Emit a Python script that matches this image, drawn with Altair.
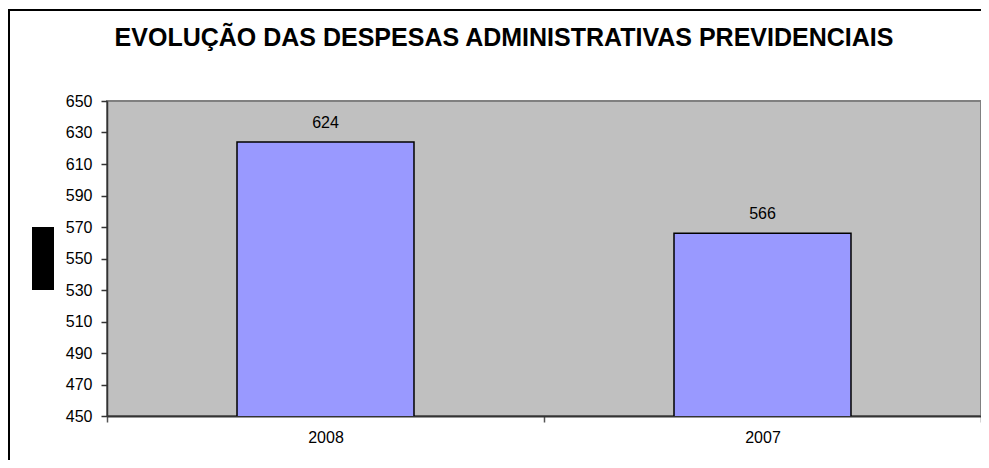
import altair as alt
import pandas as pd

title_text = "EVOLUÇÃO DAS DESPESAS ADMINISTRATIVAS PREVIDENCIAIS"
years = ["2008", "2007"]
values = [624, 566]
y_ticks = [450, 470, 490, 510, 530, 550, 570, 590, 610, 630, 650]

FONT = "Liberation Sans"

df = pd.DataFrame({"year": years, "value": values})

x_enc = alt.X(
    "year:N",
    sort=years,
    scale=alt.Scale(paddingInner=0, paddingOuter=0),
    axis=alt.Axis(
        title=None, labelAngle=0, labelFont=FONT, labelFontSize=16, labelColor="black",
        domainColor="#333333", domainWidth=2, tickColor="#555555", tickWidth=1.5,
        tickSize=6, tickBand="extent", labelPadding=7, grid=False,
    ),
)
y_enc = alt.Y(
    "value:Q",
    scale=alt.Scale(domain=[450, 650], nice=False, zero=False),
    axis=alt.Axis(
        title=None, values=y_ticks, labelFont=FONT, labelFontSize=16, labelColor="black",
        labelOverlap=False, labelFlush=False,
        domainColor="#333333", domainWidth=1.5, tickColor="#333333", tickWidth=1.5,
        tickSize=6, labelPadding=9, grid=False,
    ),
)

bars = alt.Chart(df).mark_bar(
    color="#9999FF", stroke="black", strokeWidth=1.5, clip=True,
    width=alt.RelativeBandSize(0.405),
).encode(x=x_enc, y=y_enc)

labels = alt.Chart(df).mark_text(
    font=FONT, fontSize=16, color="black", baseline="alphabetic", dy=-14
).encode(x=x_enc, y=y_enc, text=alt.Text("value:Q", format="d"))

title = alt.Chart(pd.DataFrame({"t": [title_text]})).mark_text(
    font=FONT, fontSize=25, fontWeight="bold", color="black", align="center", baseline="alphabetic"
).encode(text="t:N", x=alt.value(397), y=alt.value(-55))

frame_top = alt.Chart(pd.DataFrame({"k": [0]})).mark_rule(color="black", strokeWidth=2).encode(
    x=alt.value(-99), x2=alt.value(1000), y=alt.value(-91)
)
frame_left = alt.Chart(pd.DataFrame({"k": [0]})).mark_rule(color="black", strokeWidth=2).encode(
    x=alt.value(-98), y=alt.value(-92), y2=alt.value(400)
)
black_box = alt.Chart(pd.DataFrame({"k": [0]})).mark_rect(color="black").encode(
    x=alt.value(-75), x2=alt.value(-53), y=alt.value(126), y2=alt.value(189)
)

chart = alt.layer(bars, labels, title, frame_top, frame_left, black_box).properties(
    width=874,
    height=315,
    autosize=alt.AutoSizeParams(type="none"),
    padding={"left": 99, "top": 93, "right": 0, "bottom": 44},
    background="white",
).configure_view(
    fill="#C0C0C0", stroke="#808080", strokeWidth=2
)

chart.save("out.html", embed_options={"renderer": "svg", "actions": False})
